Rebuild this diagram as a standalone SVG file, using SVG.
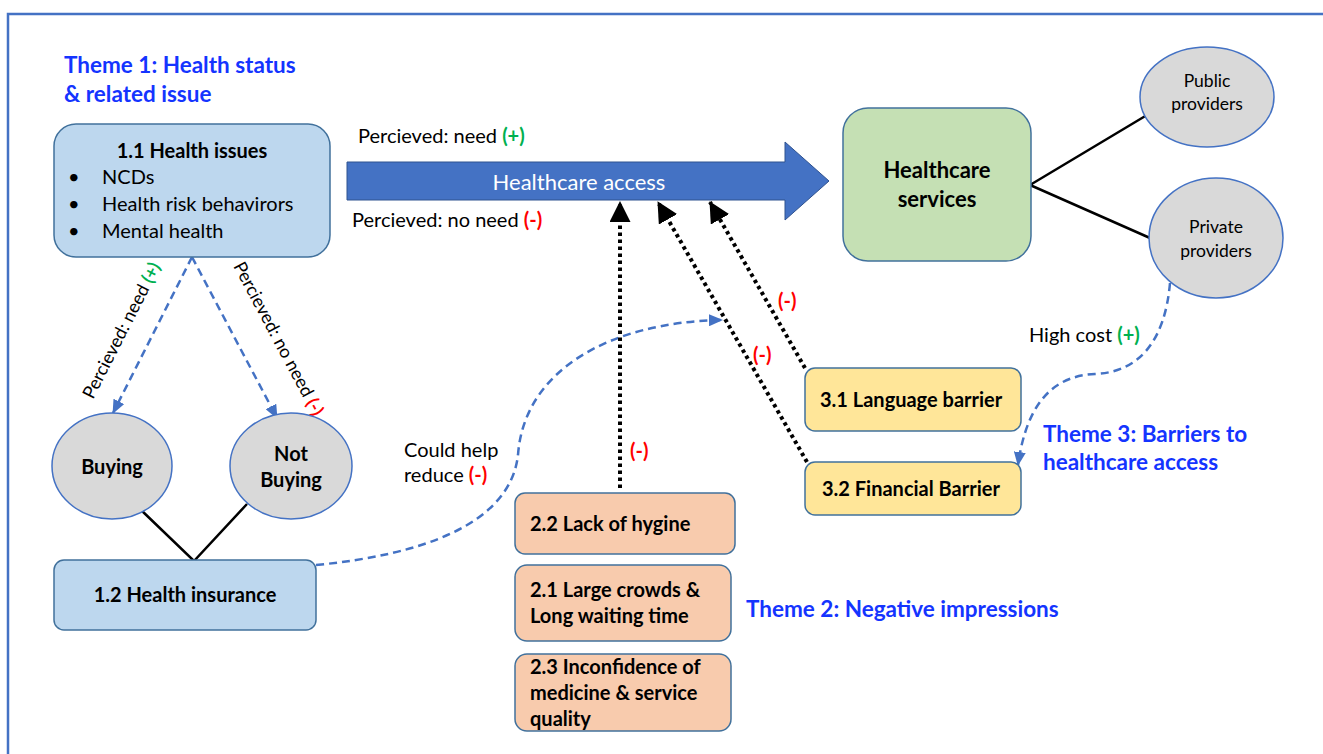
<svg xmlns="http://www.w3.org/2000/svg" width="1323" height="754" viewBox="0 0 1323 754">
<defs>
<style>
text{font-family:Lato,"Liberation Sans",sans-serif;fill:#000}
.b{font-weight:bold}
.theme{font-weight:bold;fill:#1434FF;font-size:22.5px}
.lbl{font-size:20px}
.nd{font-size:20px;font-weight:bold}
.red{fill:#FF0000;font-weight:bold}
.grn{fill:#00B050;font-weight:bold}
.box{stroke:#41719C;stroke-width:1.5}
.blue{fill:#BDD7EE}
.orange{fill:#F8CBAD}
.yellow{fill:#FFE699}
.green{fill:#C5E0B4}
.grey{fill:#D9D9D9;stroke:#4472C4;stroke-width:1.5}
.dash{fill:none;stroke:#4472C4;stroke-width:2.5;stroke-dasharray:8 5}
.dot{fill:none;stroke:#000;stroke-width:4;stroke-dasharray:3.5 3.5}
.solid{fill:none;stroke:#000;stroke-width:2.5}
</style>
<marker id="ab" markerUnits="userSpaceOnUse" markerWidth="14" markerHeight="12" refX="13" refY="6" orient="auto"><path d="M0,0 L14,6 L0,12 z" fill="#4472C4"/></marker>
<marker id="ak" markerUnits="userSpaceOnUse" markerWidth="21" markerHeight="21" refX="20" refY="10.5" orient="auto"><path d="M0,0 L21,10.5 L0,21 z" fill="#000"/></marker>
</defs>
<rect x="8" y="14" width="1322" height="760" fill="#fff" stroke="#4472C4" stroke-width="2.5"/>

<g id="theme1"><text class="theme" x="64" y="73">Theme 1: Health status</text><text class="theme" x="64" y="102">&amp; related issue</text></g>
<g id="theme2"><text class="theme" x="746" y="617">Theme 2: Negative impressions</text></g>
<g id="theme3"><text class="theme" x="1043" y="442">Theme 3: Barriers to</text><text class="theme" x="1043" y="470">healthcare access</text></g>

<g id="connectors">
<path class="dash" d="M192,257 L113,413" marker-end="url(#ab)"/>
<path class="dash" d="M192,257 L277,418" marker-end="url(#ab)"/>
<path class="dash" d="M316,565 C420,555 510,525 518,455 C524,370 610,322 722,320" marker-end="url(#ab)"/>
<path class="dash" d="M1170,283 C1165,340 1140,372 1095,374 C1045,376 1025,415 1018,465" marker-end="url(#ab)"/>
<path class="dot" d="M620,488 L620,202" marker-end="url(#ak)"/>
<path class="dot" d="M807,462 L658,202" marker-end="url(#ak)"/>
<path class="dot" d="M805,368 L710,202" marker-end="url(#ak)"/>
<path class="solid" d="M140,509 L194,561 L247,504"/>
<path class="solid" d="M1147,115 L1030,185 L1150,238"/>
<text class="lbl" transform="rotate(-63 93 400)" x="93" y="400" style="font-size:18px">Percieved: need <tspan class="grn">(+)</tspan></text>
<text class="lbl" transform="rotate(62 233 266)" x="233" y="266" style="font-size:18px">Percieved: no need <tspan class="red">(-)</tspan></text>
<text class="lbl" x="358" y="143">Percieved: need <tspan class="grn">(+)</tspan></text>
<text class="lbl" x="352" y="227">Percieved: no need <tspan class="red">(-)</tspan></text>
<text class="lbl red" x="778" y="308">(-)</text>
<text class="lbl red" x="753" y="362">(-)</text>
<text class="lbl red" x="630" y="458">(-)</text>
<text class="lbl" x="404" y="457">Could help</text>
<text class="lbl" x="404" y="482">reduce <tspan class="red">(-)</tspan></text>
<text class="lbl" x="1029" y="342">High cost <tspan class="grn">(+)</tspan></text>
</g>

<g id="healthcare-access">
<path d="M347,162 L785,162 L785,142 L829,181 L785,220 L785,200 L347,200 z" fill="#4472C4" stroke="#2F528F" stroke-width="1"/>
<text x="579" y="190" text-anchor="middle" style="fill:#fff;font-size:22px">Healthcare access</text>
</g>

<g id="n11">
<rect class="box blue" x="54" y="124" width="276" height="133" rx="22"/>
<text class="nd" x="192" y="158" text-anchor="middle">1.1 Health issues</text>
<text class="lbl" x="68" y="184">•</text><text class="lbl" x="102" y="184">NCDs</text>
<text class="lbl" x="68" y="211">•</text><text class="lbl" x="102" y="211">Health risk behavirors</text>
<text class="lbl" x="68" y="238">•</text><text class="lbl" x="102" y="238">Mental health</text>
</g>

<g id="buying">
<ellipse class="grey" cx="112" cy="466" rx="60" ry="53"/>
<text class="nd" x="112" y="474" text-anchor="middle">Buying</text>
</g>
<g id="notbuying">
<ellipse class="grey" cx="291" cy="466" rx="61" ry="53"/>
<text class="nd" x="291" y="461" text-anchor="middle">Not</text>
<text class="nd" x="291" y="487" text-anchor="middle">Buying</text>
</g>

<g id="n12">
<rect class="box blue" x="54" y="560" width="262" height="70" rx="10"/>
<text class="nd" x="185" y="602" text-anchor="middle">1.2 Health insurance</text>
</g>

<g id="services">
<rect class="box green" x="843" y="108" width="188" height="153" rx="25"/>
<text class="nd" x="937" y="178" text-anchor="middle" style="font-size:22px">Healthcare</text>
<text class="nd" x="937" y="207" text-anchor="middle" style="font-size:22px">services</text>
</g>

<g id="public">
<ellipse class="grey" cx="1207" cy="97" rx="67" ry="50"/>
<text x="1207" y="87" text-anchor="middle" style="font-size:17.5px">Public</text>
<text x="1207" y="110" text-anchor="middle" style="font-size:17.5px">providers</text>
</g>
<g id="private">
<ellipse class="grey" cx="1216" cy="238" rx="67" ry="60"/>
<text x="1216" y="233" text-anchor="middle" style="font-size:17.5px">Private</text>
<text x="1216" y="257" text-anchor="middle" style="font-size:17.5px">providers</text>
</g>

<g id="n31">
<rect class="box yellow" x="805" y="368" width="216" height="63" rx="10"/>
<text class="nd" x="820" y="407">3.1 Language barrier</text>
</g>
<g id="n32">
<rect class="box yellow" x="805" y="462" width="216" height="53" rx="10"/>
<text class="nd" x="822" y="496">3.2 Financial Barrier</text>
</g>

<g id="n22">
<rect class="box orange" x="515" y="493" width="220" height="61" rx="10"/>
<text class="nd" x="530" y="531">2.2 Lack of hygine</text>
</g>
<g id="n21">
<rect class="box orange" x="515" y="565" width="216" height="76" rx="12"/>
<text class="nd" x="530" y="597">2.1 Large crowds &amp;</text>
<text class="nd" x="530" y="623">Long waiting time</text>
</g>
<g id="n23">
<rect class="box orange" x="515" y="654" width="216" height="77" rx="12"/>
<text class="nd" x="530" y="674">2.3 Inconfidence of</text>
<text class="nd" x="530" y="700">medicine &amp; service</text>
<text class="nd" x="530" y="726">quality</text>
</g>
</svg>
